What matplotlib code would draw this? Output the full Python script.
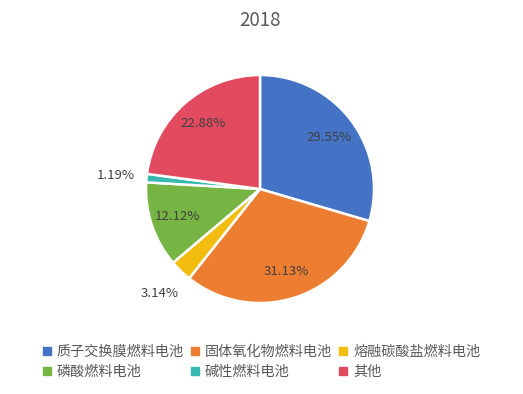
import matplotlib
matplotlib.use('Agg')
import matplotlib.pyplot as plt
from matplotlib.lines import Line2D
import numpy as np

plt.rcParams['font.family'] = ['Noto Sans CJK SC', 'DejaVu Sans']

labels = ["质子交换膜燃料电池", "固体氧化物燃料电池", "熔融碳酸盐燃料电池",
          "磷酸燃料电池", "碱性燃料电池", "其他"]
shares = [29.55, 31.13, 3.14, 12.12, 1.19, 22.88]
colors = ["#4472C4", "#ED7D31", "#F2BD0F", "#76B444", "#37B8B0", "#E24A5F"]
outside = [False, False, True, False, True, False]

fig = plt.figure(figsize=(5.23, 3.94), dpi=100)
R = 114
ax = fig.add_axes([(260 - R) / 523, (205 - R) / 394, 2 * R / 523, 2 * R / 394])

wedges, _ = ax.pie(shares, colors=colors, startangle=90, counterclock=False,
                   radius=1.0, wedgeprops=dict(edgecolor='white', linewidth=1.8))
ax.set_xlim(-1, 1)
ax.set_ylim(-1, 1)
ax.set_aspect('equal')

for w, v, out in zip(wedges, shares, outside):
    mid = np.deg2rad((w.theta1 + w.theta2) / 2)
    dist = 1.27 if out else 0.76
    ax.text(dist * np.cos(mid), dist * np.sin(mid), f"{v:.2f}%",
            ha='center', va='center', fontsize=9.5, color='#404040',
            clip_on=False)

fig.text(0.497, 1 - 20 / 394, "2018", ha='center', va='center',
         fontsize=13.5, color='#595959')

handles = [Line2D([], [], marker='s', linestyle='none', markersize=6,
                  markerfacecolor=c, markeredgecolor=c) for c in colors]
# legend fills column by column, so reorder to read row by row
order = [0, 3, 1, 4, 2, 5]
fig.legend([handles[i] for i in order], [labels[i] for i in order], ncol=3,
           loc='center', bbox_to_anchor=(0.5, 1 - 362 / 394),
           frameon=False, fontsize=10.2, handlelength=0.6, handletextpad=0.4,
           columnspacing=0.5, labelspacing=0.45, labelcolor='#595959')

fig.savefig('out.png', dpi=100)
